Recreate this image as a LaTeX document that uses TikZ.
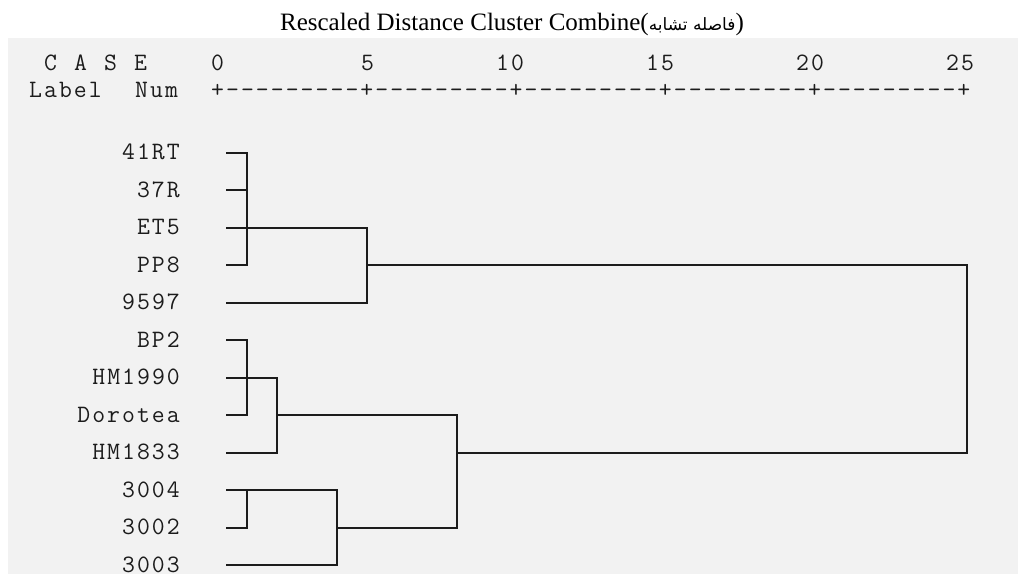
\documentclass[tikz,border=0pt]{standalone}
\usepackage{fontspec}
\setmainfont{Liberation Serif}
\setmonofont{Latin Modern Mono}[LetterSpace=8.2]
\newfontfamily\arabicfont[Script=Arabic]{DejaVu Sans}
\TeXXeTstate=1
\usepackage{tikz}
\usepackage{xcolor}
\definecolor{paper}{RGB}{242,242,242}
\definecolor{ink}{RGB}{28,28,28}

\begin{document}
\begin{tikzpicture}[x=1pt,y=-1pt,
    spss/.style={inner sep=0pt,text=ink,font=\ttfamily\fontsize{25}{30}\selectfont},
    case label/.style={spss,anchor=base east},
    head text/.style={spss,anchor=base west},
    tree/.style={draw=ink,line width=1.6pt}]
  \useasboundingbox (0,0) rectangle (1018,574);
  \fill[paper] (8,38) rectangle (1018,574);

  % Title
  \node[anchor=base,inner sep=0pt,font=\fontsize{25}{30}\selectfont] (title) at (512,30)
    {Rescaled Distance Cluster Combine({\arabicfont\fontsize{17}{20}\selectfont\beginR فاصله تشابه\endR})};

  % Header
  \foreach \t/\c in {C/1,A/3,S/5,E/7}
    \node[head text] (case\t) at ({29+15*\c},70) {\t};
  \foreach \v/\c in {0/12,5/22,10/31,15/41,20/51,25/61}
    \node[head text] (num\v) at ({31+15*\c},70) {\v};
  \node[head text] (label) at (29,97) {Label};
  \node[head text] (num) at (135,97) {Num};
  \node[head text] (axis) at (211,97) {+---------+---------+---------+---------+---------+};

  % Cases
  \foreach \name [count=\i] in {41RT,37R,ET5,PP8,9597,BP2,HM1990,Dorotea,HM1833,3004,3002,3003} {
    \node[case label] (lab\i) at (180,{159.7+37.5*(\i-1)}) {\name};
    \coordinate (leaf\i) at (226,{152.7+37.5*(\i-1)});
  }

  % Distance levels
  \coordinate (k1) at (247,0);
  \coordinate (k2) at (277,0);
  \coordinate (k4) at (337,0);
  \coordinate (k5) at (367,0);
  \coordinate (k8) at (457,0);
  \coordinate (k25) at (967,0);

  % Edges
  \draw[tree] (leaf1) -- (leaf1 -| k1) -- (leaf4 -| k1) -- (leaf4);
  \draw[tree] (leaf2) -- (leaf2 -| k1);
  \draw[tree] (leaf3) -- (leaf3 -| k5) -- (leaf5 -| k5) -- (leaf5);
  \draw[tree] (leaf6) -- (leaf6 -| k1) -- (leaf8 -| k1) -- (leaf8);
  \draw[tree] (leaf7) -- (leaf7 -| k2) -- (leaf9 -| k2) -- (leaf9);
  \draw[tree] (leaf10) -- (leaf10 -| k4) -- (leaf12 -| k4) -- (leaf12);
  \draw[tree] (leaf10 -| k1) -- (leaf11 -| k1) -- (leaf11);
  \draw[tree] (leaf8 -| k2) -- (leaf8 -| k8) -- (leaf11 -| k8) -- (leaf11 -| k4);
  \draw[tree] (leaf4 -| k5) -- (leaf4 -| k25) -- (leaf9 -| k25) -- (leaf9 -| k8);
\end{tikzpicture}
\end{document}
